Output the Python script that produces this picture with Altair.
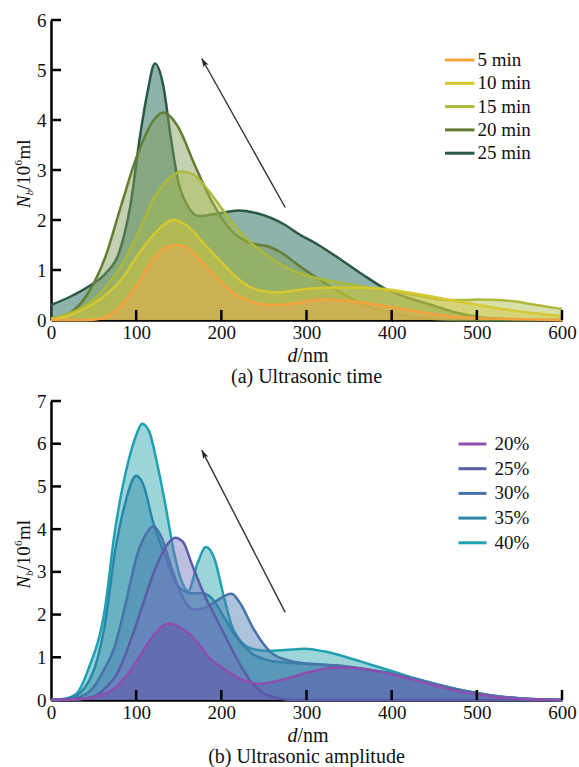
import math
import altair as alt
import pandas as pd

FONT = "Liberation Serif, Times New Roman, serif"

# ---------------- panel (a): ultrasonic time ----------------
time_names = ["5 min", "10 min", "15 min", "20 min", "25 min"]
time_line_colors = ["#f4a23e", "#d6c832", "#adb93c", "#637d34", "#2b5a44"]
time_fill_colors = ["#e8aa55", "#d2c63a", "#a9ba48", "#7f9c52", "#2f7464"]
time_fill_opacity = [0.5, 0.45, 0.45, 0.45, 0.55]

d_5min = [0, 40, 60, 80, 100, 120, 135, 150, 165, 180, 205, 220, 235, 255, 275, 295, 315, 335, 360, 390, 420, 447, 470, 500, 540, 600]
n_5min = [0, 0.0, 0.03, 0.25, 0.68, 1.22, 1.45, 1.5, 1.38, 1.1, 0.67, 0.48, 0.37, 0.3, 0.31, 0.36, 0.41, 0.4, 0.36, 0.28, 0.2, 0.12, 0.07, 0.04, 0.02, 0.0]

d_10min = [0, 20, 44, 64, 82, 100, 120, 144, 160, 181, 205, 220, 236, 252, 267, 290, 314, 340, 370, 392, 420, 447, 475, 502, 530, 560, 600]
n_10min = [0.0, 0.08, 0.27, 0.5, 0.8, 1.25, 1.7, 2.0, 1.88, 1.5, 1.07, 0.82, 0.64, 0.57, 0.55, 0.6, 0.64, 0.65, 0.64, 0.62, 0.55, 0.47, 0.38, 0.3, 0.22, 0.15, 0.08]

d_15min = [0, 20, 44, 64, 82, 102, 122, 140, 154, 168, 181, 205, 220, 236, 259, 285, 314, 341, 370, 392, 420, 445, 466, 485, 502, 525, 545, 570, 600]
n_15min = [0.03, 0.12, 0.33, 0.65, 1.07, 1.73, 2.47, 2.85, 2.97, 2.9, 2.67, 2.13, 1.8, 1.53, 1.23, 0.98, 0.83, 0.74, 0.66, 0.6, 0.52, 0.44, 0.4, 0.4, 0.41, 0.4, 0.37, 0.3, 0.22]

d_20min = [0, 23, 44, 64, 82, 102, 122, 132, 149, 168, 188, 211, 236, 255, 270, 290, 314, 340, 365, 392, 420, 450, 480, 600]
n_20min = [0.03, 0.15, 0.55, 1.27, 2.27, 3.33, 4.03, 4.15, 3.87, 3.13, 2.4, 1.8, 1.53, 1.47, 1.35, 1.1, 0.82, 0.55, 0.33, 0.17, 0.07, 0.02, 0.0, 0.0]

d_25min = [0, 23, 44, 64, 80, 93, 105, 113, 122, 132, 140, 149, 161, 173, 196, 220, 243, 275, 290, 314, 341, 365, 392, 420, 447, 475, 502, 530, 560, 600]
n_25min = [0.3, 0.47, 0.67, 0.93, 1.35, 2.27, 3.73, 4.53, 5.13, 4.67, 3.73, 2.8, 2.27, 2.08, 2.13, 2.19, 2.13, 1.9, 1.73, 1.5, 1.2, 0.92, 0.63, 0.44, 0.3, 0.15, 0.06, 0.02, 0.0, 0.0]

time_d = [d_5min, d_10min, d_15min, d_20min, d_25min]
time_n = [n_5min, n_10min, n_15min, n_20min, n_25min]

# ---------------- panel (b): ultrasonic amplitude ----------------
amp_names = ["20%", "25%", "30%", "35%", "40%"]
amp_line_colors = ["#8c4fae", "#5a5ca8", "#4873a8", "#2a86a8", "#21a0b0"]
amp_fill_colors = ["#6050a8", "#7070bc", "#4a78b0", "#2a88a8", "#3aaeb6"]
amp_fill_opacity = [0.45, 0.45, 0.45, 0.45, 0.5]

d_20 = [0, 40, 60, 78, 90, 102, 120, 138, 150, 165, 188, 205, 220, 232, 245, 260, 280, 305, 329, 350, 384, 420, 451, 475, 502, 530, 560, 600]
n_20 = [0, 0.03, 0.12, 0.33, 0.6, 0.95, 1.5, 1.79, 1.72, 1.5, 0.95, 0.7, 0.52, 0.42, 0.38, 0.42, 0.52, 0.66, 0.75, 0.76, 0.67, 0.5, 0.34, 0.22, 0.13, 0.06, 0.02, 0.0]

d_25 = [0, 30, 50, 65, 78, 90, 102, 122, 135, 146, 155, 165, 181, 193, 205, 220, 236, 250, 265, 285, 600]
n_25 = [0, 0.01, 0.08, 0.3, 0.63, 1.2, 1.88, 3.05, 3.6, 3.8, 3.7, 3.2, 2.42, 1.95, 1.48, 0.9, 0.4, 0.15, 0.05, 0.0, 0.0]

d_30 = [0, 30, 50, 62, 75, 87, 102, 112, 120, 130, 141, 156, 167, 180, 191, 212, 224, 236, 248, 259, 282, 314, 345, 375, 400, 430, 460, 490, 520, 550, 600]
n_30 = [0, 0.05, 0.3, 0.7, 1.26, 2.2, 3.45, 3.9, 4.07, 3.8, 3.13, 2.35, 2.12, 2.15, 2.28, 2.49, 2.2, 1.73, 1.35, 1.1, 0.91, 0.83, 0.78, 0.7, 0.62, 0.48, 0.33, 0.2, 0.1, 0.04, 0.0]

d_35 = [0, 20, 40, 55, 63, 75, 87, 100, 110, 118, 134, 149, 165, 178, 188, 205, 220, 236, 255, 280, 310, 340, 370, 400, 430, 460, 490, 520, 550, 600]
n_35 = [0, 0.03, 0.3, 1.0, 1.73, 3.45, 4.6, 5.25, 4.95, 4.3, 3.37, 2.67, 2.5, 2.5, 2.4, 1.88, 1.41, 1.09, 0.93, 0.87, 0.84, 0.8, 0.72, 0.62, 0.48, 0.33, 0.2, 0.1, 0.04, 0.0]

d_40 = [0, 20, 30, 44, 63, 75, 91, 100, 107, 115, 125, 134, 145, 153, 161, 172, 182, 192, 202, 212, 224, 236, 255, 275, 298, 320, 349, 375, 400, 425, 451, 475, 502, 530, 553, 580, 600]
n_40 = [0, 0.05, 0.15, 0.73, 2.1, 3.95, 5.6, 6.2, 6.47, 6.3, 5.5, 4.6, 3.4, 2.8, 2.55, 3.2, 3.58, 3.3, 2.5, 1.75, 1.35, 1.2, 1.15, 1.17, 1.2, 1.14, 0.99, 0.83, 0.68, 0.52, 0.38, 0.26, 0.15, 0.07, 0.03, 0.01, 0.0]

amp_d = [d_20, d_25, d_30, d_35, d_40]
amp_n = [n_20, n_25, n_30, n_35, n_40]

# axis tick values
x_ticks = [0, 100, 200, 300, 400, 500, 600]
x_inner_ticks = [100, 200, 300, 400, 500, 600]
y_ticks_a = [0, 1, 2, 3, 4, 5, 6]
y_ticks_b = [0, 1, 2, 3, 4, 5, 6, 7]

# arrows (data coordinates: tail -> head)
arrow_a = {"x0": 275, "y0": 2.25, "x1": 177, "y1": 5.23}
arrow_b = {"x0": 275, "y0": 2.05, "x1": 177, "y1": 5.85}

W = 511


def long_df(names, ds, ns):
    rows = []
    for name, d, n in zip(names, ds, ns):
        for a, b in zip(d, n):
            rows.append({"series": name, "d": a, "n": b})
    return pd.DataFrame(rows)


def panel(names, ds, ns, line_colors, fill_colors, fill_op, ymax, yticks, H,
          arrow, caption, leg):
    df = long_df(names, ds, ns)
    xs = alt.Scale(domain=[0, 600], nice=False, zero=False)
    ys = alt.Scale(domain=[0, ymax], nice=False)
    xenc = alt.X("d:Q", scale=xs, axis=alt.Axis(values=x_ticks, title=None, format="d",
                                                labelFlush=False))
    yenc = alt.Y("n:Q", scale=ys, axis=alt.Axis(values=yticks, title=None, format="d",
                                                labelFlush=False))
    sscale = alt.Scale(domain=names, range=line_colors)
    layers = []
    order = list(range(len(names)))[::-1]
    for i in order:
        name = names[i]
        sub = alt.Chart(df).transform_filter(alt.datum.series == name)
        layers.append(sub.mark_area(interpolate="monotone", fill=fill_colors[i],
                                    fillOpacity=fill_op[i])
                      .encode(x=xenc, y=yenc))
        layers.append(sub.mark_line(interpolate="monotone", strokeWidth=2.5)
                      .encode(x=xenc, y=yenc,
                              stroke=alt.Stroke("series:N", scale=sscale, legend=None)))
    # inward ticks
    xt = alt.Chart(pd.DataFrame({"d": x_inner_ticks})).mark_rule(
        color="black", strokeWidth=2.5).encode(
        x=alt.X("d:Q", scale=xs), y=alt.value(H), y2=alt.value(H - 10))
    yt = alt.Chart(pd.DataFrame({"n": yticks[1:]})).mark_rule(
        color="black", strokeWidth=2.5).encode(
        y=alt.Y("n:Q", scale=ys), x=alt.value(0), x2=alt.value(10))
    layers += [xt, yt]
    # arrow
    adf = pd.DataFrame([arrow])
    dxp = (arrow["x1"] - arrow["x0"]) * W / 600
    dyp = -(arrow["y1"] - arrow["y0"]) * H / ymax
    ang = math.degrees(math.atan2(dxp, -dyp)) % 360
    layers.append(alt.Chart(adf).mark_rule(color="#333333", strokeWidth=1.4).encode(
        x=alt.X("x0:Q", scale=xs), y=alt.Y("y0:Q", scale=ys),
        x2="x1:Q", y2="y1:Q"))
    layers.append(alt.Chart(adf).mark_point(
        shape="M0,0 L0.55,1.7 L0,1.25 L-0.55,1.7 Z", filled=True, color="#222222",
        opacity=1, size=110, angle=ang).encode(
        x=alt.X("x1:Q", scale=xs), y=alt.Y("y1:Q", scale=ys)))
    # legend (manual)
    ldf = pd.DataFrame({"series": names, "idx": list(range(len(names)))})
    lbase = alt.Chart(ldf).transform_calculate(
        ly=f"{leg['y0']} + datum.idx * {leg['dy']}")
    layers.append(lbase.mark_rule(strokeWidth=3).encode(
        x=alt.value(leg["x0"]), x2=alt.value(leg["x1"]),
        y=alt.Y("ly:Q", scale=None),
        stroke=alt.Stroke("series:N", scale=sscale, legend=None)))
    layers.append(lbase.mark_text(align="left", baseline="middle", font=FONT,
                                  fontSize=19, color="#111111").encode(
        x=alt.value(leg["tx"]), y=alt.Y("ly:Q", scale=None), text="series:N"))
    # y title: N_b/10^6 ml (rotated)
    one = pd.DataFrame({"a": [0]})
    ybase = H / 2 + 38
    bx = -21

    def piece(txt, x, y, size=19, style="normal"):
        return alt.Chart(one).mark_text(text=txt, angle=270, align="left",
                                        baseline="alphabetic", font=FONT,
                                        fontSize=size, fontStyle=style,
                                        color="#111111").encode(
            x=alt.value(x), y=alt.value(y))
    layers += [
        piece("N", bx, ybase, 19, "italic"),
        piece("b", bx + 3, ybase - 12.5, 11, "italic"),
        piece("/10", bx, ybase - 18, 19),
        piece("6", bx - 8, ybase - 42.5, 11),
        piece("ml", bx, ybase - 48.5),
    ]
    # x title d/nm and caption
    cx = W / 2 + 1
    layers.append(alt.Chart(one).mark_text(text="d", align="right", baseline="middle",
                                           font=FONT, fontSize=20, fontStyle="italic",
                                           color="#111111").encode(
        x=alt.value(cx - 10), y=alt.value(H + 36)))
    layers.append(alt.Chart(one).mark_text(text="/nm", align="left", baseline="middle",
                                           font=FONT, fontSize=20, color="#111111").encode(
        x=alt.value(cx - 10), y=alt.value(H + 36)))
    layers.append(alt.Chart(one).mark_text(text=caption, align="center", baseline="middle",
                                           font=FONT, fontSize=20, color="#111111").encode(
        x=alt.value(W / 2), y=alt.value(H + 57)))
    return alt.layer(*layers).properties(width=W, height=H)


top = panel(time_names, time_d, time_n, time_line_colors, time_fill_colors,
            time_fill_opacity, 6, y_ticks_a, 300, arrow_a, "(a) Ultrasonic time",
            {"x0": 394, "x1": 423.5, "tx": 426.5, "y0": 40, "dy": 23.3})
bottom = panel(amp_names, amp_d, amp_n, amp_line_colors, amp_fill_colors,
               amp_fill_opacity, 7, y_ticks_b, 299, arrow_b, "(b) Ultrasonic amplitude",
               {"x0": 407.5, "x1": 435.5, "tx": 443.5, "y0": 43, "dy": 24.7})

chart = alt.vconcat(top, bottom, spacing=81, bounds="flush").resolve_scale(
    stroke="independent"
).properties(
    padding={"left": 13, "top": 11, "right": 0, "bottom": 0},
    background="white",
).configure_view(stroke=None).configure_axis(
    domainColor="black", domainWidth=2.5, ticks=False, tickSize=0, grid=False,
    labelFont=FONT, labelFontSize=19, labelColor="#111111", labelPadding=5,
).configure_axisX(labelPadding=3)

chart.save("out.html", embed_options={"renderer": "svg", "actions": False})
